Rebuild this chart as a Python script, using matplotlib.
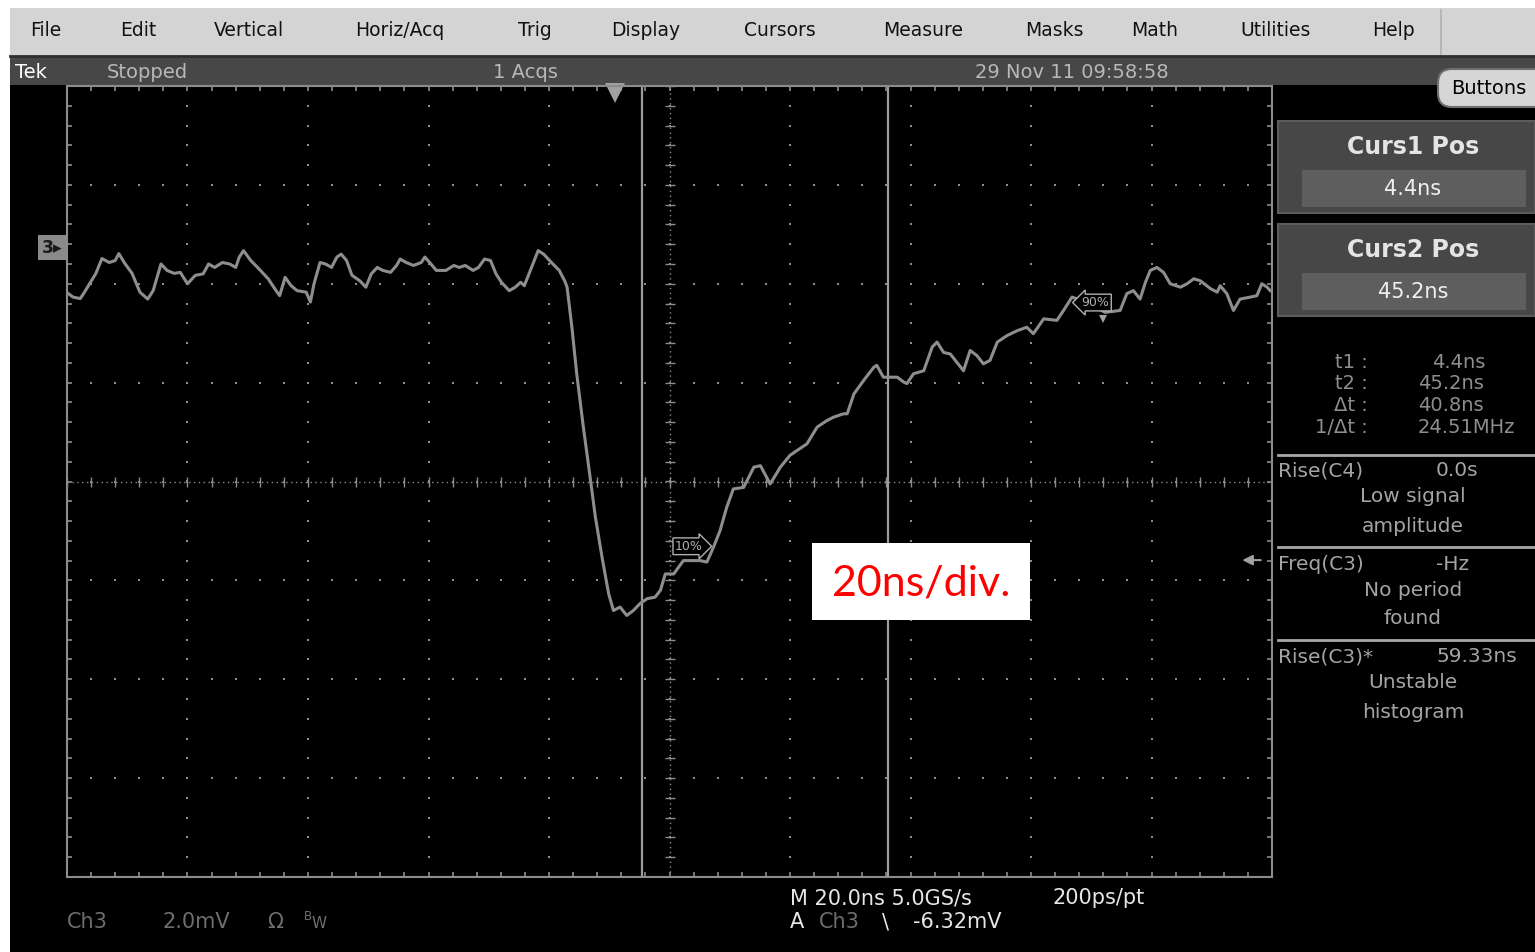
import numpy as np
import matplotlib
matplotlib.use("Agg")
import matplotlib.pyplot as plt
from matplotlib.patches import Rectangle, FancyBboxPatch
from matplotlib.transforms import blended_transform_factory

plt.rcParams['font.family'] = ['DejaVu Sans']

# Ch3 trace: time (ns) and screen level (mV, graticule centre = 0)
time_ns = [-91.1, -90.0, -88.8, -88.1, -87.1, -86.2, -85.2, -84.0, -83.0, -82.4,
           -81.4, -80.2, -78.9, -77.6, -76.7, -75.4, -74.4, -73.2, -72.2, -71.0,
           -69.7, -68.4, -67.5, -66.5, -65.2, -64.0, -63.0, -62.4, -61.7, -60.5,
           -58.9, -57.6, -56.3, -55.7, -54.8, -53.8, -52.8, -51.3, -50.6, -50.0,
           -49.0, -48.1, -47.1, -46.2, -45.5, -44.6, -43.7, -42.4, -41.4, -40.5,
           -39.5, -38.6, -37.3, -36.3, -35.7, -34.7, -33.5, -32.2, -31.6, -30.6,
           -29.7, -28.1, -26.8, -25.9, -24.9, -23.6, -22.7, -21.7, -20.7, -19.8,
           -18.9, -17.6, -16.6, -15.7, -15.1, -14.1, -12.8, -11.9, -10.6, -9.3,
           -8.4, -8.0, -7.2, -6.4, -5.3, -4.4, -3.3, -2.2, -1.1, -0.3,
           0.8, 1.9, 3.0, 4.1, 5.3, 6.6, 7.5, 8.3, 9.7, 11.3,
           14.1, 15.2, 16.3, 17.4, 18.5, 19.6, 21.3, 23.0, 24.1, 25.7,
           27.4, 29.0, 30.2, 31.8, 33.5, 35.1, 36.2, 37.9, 38.5, 39.6,
           41.2, 42.9, 43.4, 44.5, 45.6, 46.8, 47.9, 48.4, 49.5, 51.2,
           52.6, 53.4, 54.5, 55.6, 56.7, 57.8, 58.9, 60.0, 61.1, 62.2,
           63.4, 65.0, 66.7, 68.3, 69.4, 71.1, 73.3, 74.4, 75.8, 78.8,
           81.3, 83.8, 84.9, 86.0, 87.1, 88.0, 88.8, 89.9, 91.0, 92.1,
           93.8, 94.9, 96.0, 97.1, 98.8, 99.9, 100.4, 101.5, 102.6, 103.7,
           105.4, 106.5, 107.3, 108.2, 108.7]
ch3_mv = [3.83, 3.73, 3.70, 3.83, 4.03, 4.21, 4.51, 4.43, 4.47, 4.61,
          4.41, 4.21, 3.83, 3.69, 3.86, 4.40, 4.27, 4.21, 4.23, 4.00,
          4.17, 4.20, 4.40, 4.33, 4.43, 4.40, 4.33, 4.54, 4.67, 4.47,
          4.27, 4.10, 3.86, 3.76, 4.13, 3.96, 3.86, 3.83, 3.63, 4.00,
          4.43, 4.40, 4.33, 4.54, 4.60, 4.47, 4.17, 4.06, 3.93, 4.20,
          4.33, 4.27, 4.23, 4.37, 4.50, 4.43, 4.37, 4.43, 4.54, 4.40,
          4.27, 4.27, 4.37, 4.33, 4.37, 4.27, 4.33, 4.50, 4.47, 4.20,
          4.03, 3.86, 3.93, 4.03, 3.96, 4.27, 4.67, 4.60, 4.43, 4.27,
          4.06, 3.93, 3.12, 2.18, 1.10, 0.29, -0.72, -1.53, -2.27, -2.61,
          -2.54, -2.71, -2.61, -2.47, -2.37, -2.34, -2.20, -1.87, -1.87, -1.60,
          -1.60, -1.63, -1.33, -0.99, -0.52, -0.15, -0.12, 0.29, 0.32, -0.05,
          0.29, 0.53, 0.63, 0.76, 1.10, 1.23, 1.30, 1.37, 1.37, 1.77,
          2.04, 2.31, 2.35, 2.11, 2.11, 2.11, 2.01, 1.98, 2.18, 2.24,
          2.72, 2.82, 2.61, 2.58, 2.41, 2.24, 2.65, 2.55, 2.38, 2.45,
          2.82, 2.95, 3.05, 3.12, 2.99, 3.29, 3.26, 3.46, 3.73, 3.60,
          3.42, 3.46, 3.80, 3.86, 3.69, 4.03, 4.27, 4.33, 4.23, 4.00,
          3.93, 4.00, 4.10, 4.06, 3.90, 3.83, 3.96, 3.80, 3.46, 3.69,
          3.73, 3.76, 4.00, 3.93, 3.86]

cursor_ns = [4.4, 45.2]
trigger_ns = 0.0
ch3_ground_mv = 4.73
trigger_level_mv = -6.32
t_left, t_span = -91.0, 200.0
mv_span = 16.0
ref10_ns, ref10_mv = 12.2, -1.31
ref90_ns, ref90_mv = 79.7, 3.62

menu_items = ["File", "Edit", "Vertical", "Horiz/Acq", "Trig", "Display",
              "Cursors", "Measure", "Masks", "Math", "Utilities", "Help"]
menu_x = [30, 120, 214, 355, 518, 611, 744, 883, 1025, 1131, 1240, 1372]

readout_labels = ["t1 :", "t2 :", "\u0394t :", "1/\u0394t :"]
readout_values = ["4.4ns", "45.2ns", "40.8ns", "24.51MHz"]

W, H = 1535, 952
GRID = '#8c8c8c'
TRACE = '#8e8e8e'

fig = plt.figure(figsize=(W / 100, H / 100), dpi=100, facecolor='white')

# background chrome in pixel units
bg = fig.add_axes([0, 0, 1, 1])
bg.set_xlim(0, W)
bg.set_ylim(H, 0)
bg.axis('off')


def box(a, x0, y0, x1, y1, **kw):
    a.add_patch(Rectangle((x0, y0), x1 - x0, y1 - y0, **kw))


box(bg, 10, 8, W, 56, fc='#d4d4d4', ec='none')
bg.plot([10, W], [56, 56], color='#2e2e2e', lw=2)
bg.plot([1441, 1441], [10, 54], color='#b0b0b0', lw=1.2)
box(bg, 10, 57, W, H, fc='black', ec='none')
box(bg, 10, 57, W, 85, fc='#474747', ec='none')

for name, x in zip(menu_items, menu_x):
    bg.text(x, 31, name, fontsize=13.5, color='#111111', va='center', ha='left')

bg.text(15, 72, "Tek", fontsize=14, color='white', va='center')
bg.text(107, 72, "Stopped", fontsize=14, color='#b8b8b8', va='center')
bg.text(493, 72, "1 Acqs", fontsize=14, color='#b8b8b8', va='center')
bg.text(975, 72, "29 Nov 11 09:58:58", fontsize=14, color='#b8b8b8', va='center')

bg.add_patch(FancyBboxPatch((1438, 69), 140, 38, boxstyle='round,pad=0,rounding_size=14',
                            fc='#d6d6d6', ec='#707070', lw=1.5))
bg.text(1451, 88, "Buttons", fontsize=14, color='black', va='center')

# cursor position panels
for i, (title, val) in enumerate([("Curs1 Pos", readout_values[0]),
                                  ("Curs2 Pos", readout_values[1])]):
    y0 = 121 + 103 * i
    box(bg, 1278, y0, W, y0 + 92, fc='#474747', ec='#5c5c5c', lw=1.5)
    box(bg, 1302, y0 + 49, 1526, y0 + 86, fc='#5e5e5e', ec='none')
    bg.text(1413, y0 + 26, title, fontsize=17, fontweight='bold', color='#e4e4e4',
            ha='center', va='center')
    bg.text(1413, y0 + 68, val, fontsize=15, color='#f0f0f0', ha='center', va='center')

readout_x = [1432, 1418, 1418, 1418]
for i, (lab, val) in enumerate(zip(readout_labels, readout_values)):
    y = 362 + 21.7 * i
    bg.text(1368, y, lab, fontsize=14, color='#8e8e8e', ha='right', va='center')
    bg.text(readout_x[i], y, val, fontsize=14, color='#8e8e8e', ha='left', va='center')

# measurement readouts
MEAS = '#a4a4a4'
for y in [455, 547, 640]:
    bg.plot([1278, W], [y, y], color='#a8a8a8', lw=2)
meas = [("Rise(C4)", "0.0s", "Low signal", "amplitude"),
        ("Freq(C3)", "-Hz", "No period", "found"),
        ("Rise(C3)*", "59.33ns", "Unstable", "histogram")]
for i, (name, val, l1, l2) in enumerate(meas):
    y = 471 + 93 * i
    bg.text(1278, y, name, fontsize=14.5, color=MEAS, va='center')
    bg.text(1436, y, val, fontsize=14.5, color=MEAS, va='center')
    bg.text(1413, y + 26, l1, fontsize=14.5, color=MEAS, ha='center', va='center')
    bg.text(1413, y + 55, l2, fontsize=14.5, color=MEAS, ha='center', va='center')

# bottom status lines
DIM = '#6e6e6e'
BRIGHT = '#e6e6e6'
bg.text(67, 922, "Ch3", fontsize=15, color=DIM, va='center')
bg.text(163, 922, "2.0mV", fontsize=15, color=DIM, va='center')
bg.text(267, 922, "\u03a9", fontsize=15, color=DIM, va='center')
bg.text(304, 917, "B", fontsize=8.5, color=DIM, va='center')
bg.text(311, 924, "W", fontsize=11, color=DIM, va='center')
bg.text(790, 898, "M 20.0ns 5.0GS/s", fontsize=15, color=BRIGHT, va='center')
bg.text(1053, 898, "200ps/pt", fontsize=15, color=BRIGHT, va='center')
bg.text(790, 922, "A", fontsize=15, color=BRIGHT, va='center')
bg.text(819, 922, "Ch3", fontsize=15, color=DIM, va='center')
bg.text(882, 922, "\\", fontsize=15, color=BRIGHT, va='center')
bg.text(913, 922, "%.2fmV" % trigger_level_mv, fontsize=15, color=BRIGHT, va='center')

# graticule
ax = fig.add_axes([67 / W, 1 - 877 / H, 1205 / W, 791 / H])
ax.set_facecolor('black')
ax.set_xlim(t_left, t_left + t_span)
ax.set_ylim(-mv_span / 2, mv_span / 2)

major_x = np.arange(t_left, t_left + t_span + 0.1, t_span / 10)
minor_x = np.arange(t_left, t_left + t_span + 0.1, t_span / 50)
major_y = np.arange(-mv_span / 2, mv_span / 2 + 0.01, mv_span / 8)
minor_y = np.arange(-mv_span / 2, mv_span / 2 + 0.01, mv_span / 40)
t_mid = t_left + t_span / 2

gx, gy = np.meshgrid(major_x[1:-1], minor_y)
ax.plot(gx.ravel(), gy.ravel(), ls='none', marker='s', ms=1.7, mew=0, color=GRID)
gx, gy = np.meshgrid(minor_x, major_y[1:-1])
ax.plot(gx.ravel(), gy.ravel(), ls='none', marker='s', ms=1.7, mew=0, color=GRID)
ax.axvline(t_mid, color=GRID, lw=1, ls=(0, (1, 2.5)))
ax.axhline(0, color=GRID, lw=1, ls=(0, (1, 2.5)))
ax.plot(np.full_like(minor_y, t_mid), minor_y, ls='none', marker='_', ms=7, mew=1, color=GRID)
ax.plot(minor_x, np.zeros_like(minor_x), ls='none', marker='|', ms=7, mew=1, color=GRID)

ax.set_xticks(major_x)
ax.set_xticks(minor_x, minor=True)
ax.set_yticks(major_y)
ax.set_yticks(minor_y, minor=True)
ax.tick_params(which='both', direction='in', length=3.5, width=1.2, color=GRID,
               top=True, right=True, labelbottom=False, labelleft=False)
for s in ax.spines.values():
    s.set_color(GRID)
    s.set_linewidth(1.5)

for c in cursor_ns:
    ax.axvline(c, color='#9c9c9c', lw=1.6)

ax.plot(time_ns, ch3_mv, color=TRACE, lw=2.2)

ax.plot(trigger_ns, mv_span / 2 - 0.14, marker='v', ms=14, color='#a0a0a0', mew=0, clip_on=False)

side = blended_transform_factory(ax.transAxes, ax.transData)
ax.text(-0.004, ch3_ground_mv, "3\u25b8", transform=side, ha='right', va='center',
        fontsize=12.5, fontweight='bold', color='#1a1a1a', clip_on=False,
        bbox=dict(boxstyle='square,pad=0.2', fc='#8a8a8a', ec='none'))
trig_y = ch3_ground_mv + trigger_level_mv
ax.annotate('', xy=(0.973, trig_y), xytext=(0.993, trig_y), xycoords=side, textcoords=side,
            arrowprops=dict(arrowstyle='-|>,head_length=0.6,head_width=0.3',
                            color='#a0a0a0', lw=1.5))

ax.text(ref10_ns, ref10_mv, "10%", fontsize=9, color='#b0b0b0', ha='center', va='center',
        bbox=dict(boxstyle='rarrow,pad=0.15', fc='black', ec='#b0b0b0', lw=1))
ax.text(ref90_ns, ref90_mv, "90%", fontsize=9, color='#b0b0b0', ha='center', va='center',
        bbox=dict(boxstyle='larrow,pad=0.15', fc='black', ec='#b0b0b0', lw=1))
ax.plot(ref90_ns + 1.3, ref90_mv - 0.34, marker='v', ms=6, mew=0, color='#a0a0a0')

# annotation on top
top = fig.add_axes([0, 0, 1, 1])
top.set_xlim(0, W)
top.set_ylim(H, 0)
top.axis('off')
top.patch.set_alpha(0)
box(top, 812, 543, 1030, 620, fc='white', ec='none')
top.text(921, 583, "20ns/div.", fontsize=31, color='#ff0000', family=['Lato', 'DejaVu Sans'],
         ha='center', va='center')

fig.savefig('out.png', dpi=100, facecolor='white')
